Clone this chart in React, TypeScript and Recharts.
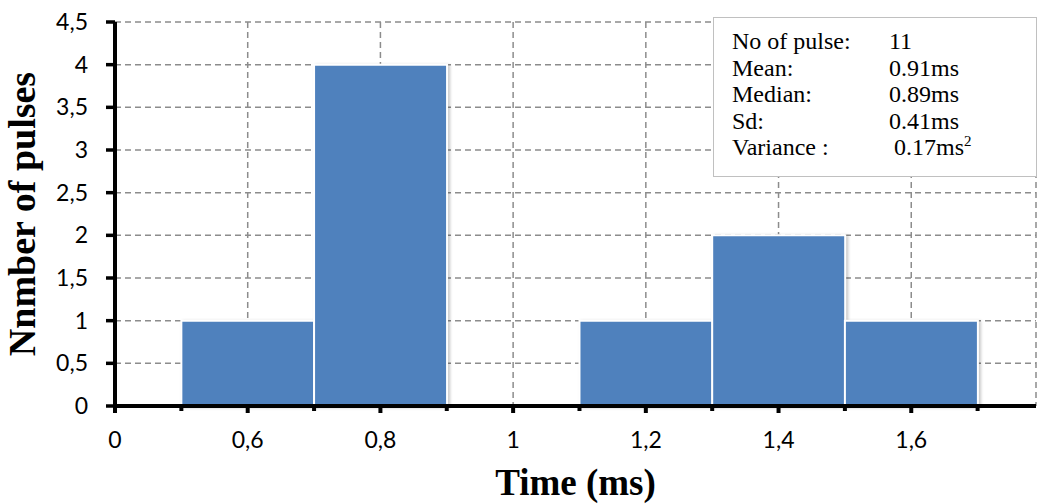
import React from 'react';
import { BarChart, Bar, XAxis, YAxis, CartesianGrid, Label } from 'recharts';

// Histogram bins (centres, ms) and pulse counts
const binCenters = [0.6, 0.8, 1.0, 1.2, 1.4, 1.6];
const pulseCounts = [1, 4, 0, 1, 2, 1];

// X axis: major ticks with their printed labels, and minor ticks at the bin edges
const majorTicks = [0.4, 0.6, 0.8, 1.0, 1.2, 1.4, 1.6];
const majorTickLabels = ['0', '0,6', '0,8', '1', '1,2', '1,4', '1,6'];
const minorTicks = [0.5, 0.7, 0.9, 1.1, 1.3, 1.5, 1.7];
const xDomain = [0.4, 1.788];

// Y axis
const yTicks = [0, 0.5, 1, 1.5, 2, 2.5, 3, 3.5, 4, 4.5];
const yDomain = [0, 4.5];

// Statistics box
const statLabels = ['No of pulse:', 'Mean:', 'Median:', 'Sd:', 'Variance :'];
const statValues = ['11', '0.91ms', '0.89ms', '0.41ms', '0.17ms'];

const data = binCenters.map((x, i) => ({ x, count: pulseCounts[i] }));
const allXTicks = [...majorTicks, ...minorTicks].sort((a, b) => a - b);

const TICK_FONT = 'Lato, "Open Sans", sans-serif';
const SERIF = '"Liberation Serif", "Times New Roman", serif';

const XTick = (props: any) => {
  const { x, y, payload } = props;
  const v = payload.value;
  const idx = majorTicks.findIndex((t) => Math.abs(t - v) < 1e-6);
  const major = idx >= 0;
  return (
    <g>
      <line x1={x} x2={x} y1={y} y2={y + (major ? 7 : 5)} stroke="#000" strokeWidth={4} />
      {major && (
        <text x={x} y={y + 42} textAnchor="middle" fontFamily={TICK_FONT} fontSize={23} fill="#000">
          {majorTickLabels[idx]}
        </text>
      )}
    </g>
  );
};

export default function App() {
  return (
    <div style={{ position: 'absolute', left: 0, top: 0, width: 1038, height: 504, background: '#fff' }}>
      <style>{`.recharts-bar-rectangle path { filter: drop-shadow(2px 1px 1.5px rgba(0,0,0,0.22)); }`}</style>
      <BarChart
        width={1038}
        height={504}
        data={data}
        margin={{ top: 22, right: 2, bottom: 0, left: 0 }}
        barCategoryGap={0}
        barGap={0}
      >
        <CartesianGrid
          xAxisId="bars"
          stroke="#8c8c8c"
          strokeWidth={1.5}
          strokeDasharray="6 4"
        />
        <XAxis
          xAxisId="main"
          dataKey="x"
          type="number"
          domain={xDomain}
          ticks={allXTicks}
          allowDataOverflow
          interval={0}
          height={98}
          tickSize={0}
          tickMargin={0}
          tickLine={false}
          axisLine={{ stroke: '#000', strokeWidth: 4 }}
          tick={<XTick />}
        >
          <Label
            value="Time (ms)"
            position="insideBottom"
            offset={9}
            style={{ fontFamily: SERIF, fontWeight: 'bold', fontSize: 37, fill: '#000' }}
          />
        </XAxis>
        <XAxis
          xAxisId="bars"
          dataKey="x"
          type="number"
          domain={xDomain}
          ticks={majorTicks}
          allowDataOverflow
          height={0}
          hide
        />
        <YAxis
          type="number"
          domain={yDomain}
          ticks={yTicks}
          interval={0}
          width={115}
          tickSize={9}
          tickMargin={18}
          tickLine={{ stroke: '#000', strokeWidth: 3.5 }}
          axisLine={{ stroke: '#000', strokeWidth: 4 }}
          tick={{ fontFamily: TICK_FONT, fontSize: 23, fill: '#000' }}
          tickFormatter={(v: number) => String(v).replace('.', ',')}
        >
          <Label
            value="Nnmber of pulses"
            position="insideLeft"
            angle={-90}
            offset={22}
            style={{ fontFamily: SERIF, fontWeight: 'bold', fontSize: 38, fill: '#000', textAnchor: 'middle' }}
          />
        </YAxis>
        <Bar
          xAxisId="bars"
          dataKey="count"
          fill="#4F81BD"
          stroke="#ffffff"
          strokeWidth={2}
          isAnimationActive={false}
        />
      </BarChart>
      <div
        style={{
          position: 'absolute',
          left: 713,
          top: 17,
          width: 324,
          height: 160,
          boxSizing: 'border-box',
          border: '1px solid #c0c0c0',
          background: '#fff',
          fontFamily: SERIF,
          fontSize: 24,
          lineHeight: '26.5px',
          color: '#000',
          paddingTop: 10,
          paddingLeft: 18,
        }}
      >
        {statLabels.map((lab, i) => (
          <div key={lab} style={{ display: 'flex', whiteSpace: 'nowrap' }}>
            <span style={{ width: 157, display: 'inline-block' }}>{lab}</span>
            <span style={{ marginLeft: i === 4 ? 5 : 0 }}>
              {statValues[i]}
              {i === 4 && <sup style={{ fontSize: 15, lineHeight: 0 }}>2</sup>}
            </span>
          </div>
        ))}
      </div>
    </div>
  );
}
